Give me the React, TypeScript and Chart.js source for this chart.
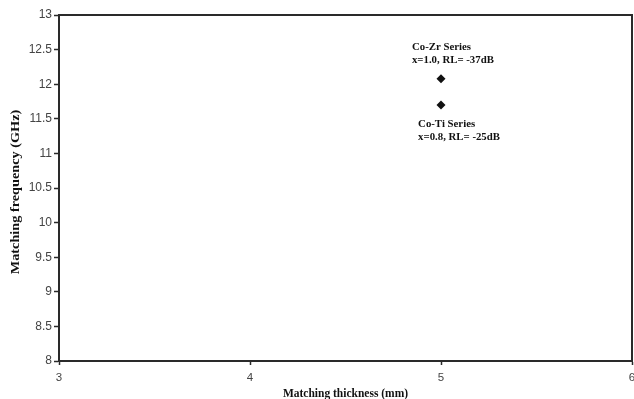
import React, { useEffect, useRef } from "react";
import { Chart, registerables } from "chart.js";

Chart.register(...registerables);

// Data
const thickness = [5, 5]; // mm
const frequency = [12.08, 11.7]; // GHz
const xTicks = [3, 4, 5, 6];
const yTicks = [8, 8.5, 9, 9.5, 10, 10.5, 11, 11.5, 12, 12.5, 13];
const xTitle = "Matching thickness (mm)";
const yTitle = "Matching frequency (GHz)";
const noteCoZr = ["Co-Zr Series", "x=1.0, RL= -37dB"];
const noteCoTi = ["Co-Ti Series", "x=0.8, RL= -25dB"];
const noteCoZrAt = [4.848, 12.54];
const noteCoTiAt = [4.88, 11.42];

const SERIF = "'Liberation Serif', 'Times New Roman', serif";
const SANS = "'Liberation Sans', Arial, sans-serif";

const decorPlugin = {
  id: "decor",
  afterDraw(chart: any) {
    const { ctx, chartArea, scales } = chart;
    const xs = scales.x;
    const ys = scales.y;
    ctx.save();
    // frame top & right
    ctx.strokeStyle = "#2a2a2a";
    ctx.lineWidth = 2;
    ctx.beginPath();
    ctx.moveTo(chartArea.left, chartArea.top);
    ctx.lineTo(chartArea.right, chartArea.top);
    ctx.lineTo(chartArea.right, chartArea.bottom);
    ctx.stroke();

    // annotations
    ctx.fillStyle = "#111";
    ctx.font = "bold 10.8px " + SERIF;
    ctx.textAlign = "left";
    ctx.textBaseline = "middle";
    const drawNote = (lines: string[], at: number[]) => {
      const px = xs.getPixelForValue(at[0]);
      const py = ys.getPixelForValue(at[1]);
      lines.forEach((l, i) => ctx.fillText(l, px, py + i * 13.3));
    };
    drawNote(noteCoZr, noteCoZrAt);
    drawNote(noteCoTi, noteCoTiAt);

    // x title
    ctx.font = "bold 11.5px " + SERIF;
    ctx.textAlign = "center";
    ctx.textBaseline = "middle";
    ctx.fillText(xTitle, (chartArea.left + chartArea.right) / 2, chartArea.bottom + 33);

    // y title (stretched along its length)
    ctx.save();
    ctx.translate(16, (chartArea.top + chartArea.bottom) / 2 + 4);
    ctx.rotate(-Math.PI / 2);
    ctx.scale(1.24, 1);
    ctx.fillText(yTitle, 0, 0);
    ctx.restore();

    ctx.restore();
  },
};

export default function App() {
  const ref = useRef<HTMLCanvasElement | null>(null);
  useEffect(() => {
    if (!ref.current) return;
    const chart = new Chart(ref.current, {
      type: "scatter",
      data: {
        datasets: [
          {
            data: thickness.map((x, i) => ({ x, y: frequency[i] })),
            pointStyle: "rectRot",
            pointRadius: 4.5,
            pointHoverRadius: 4.5,
            backgroundColor: "#111",
            borderColor: "#111",
            borderWidth: 0,
          },
        ],
      },
      options: {
        responsive: false,
        animation: false,
        devicePixelRatio: 1,
        layout: { padding: { top: 15, right: 28, left: 0, bottom: 0 } },
        plugins: {
          legend: { display: false },
          tooltip: { enabled: false },
          title: { display: false },
        },
        scales: {
          x: {
            type: "linear",
            min: 3,
            max: 6,
            afterBuildTicks: (s: any) => {
              s.ticks = xTicks.map((v) => ({ value: v }));
            },
            afterFit: (s: any) => {
              s.height = 38;
            },
            border: { display: true, color: "#2a2a2a", width: 2 },
            grid: {
              drawOnChartArea: false,
              drawTicks: true,
              tickLength: 4,
              tickColor: "#2a2a2a",
              tickWidth: 1.5,
            },
            ticks: {
              color: "#444",
              font: { family: SANS, size: 11.5 },
              padding: 6,
              maxRotation: 0,
              autoSkip: false,
              callback: (v: any) => String(v),
            },
          },
          y: {
            type: "linear",
            min: 8,
            max: 13,
            afterBuildTicks: (s: any) => {
              s.ticks = yTicks.map((v) => ({ value: v }));
            },
            afterFit: (s: any) => {
              s.width = 59;
            },
            border: { display: true, color: "#2a2a2a", width: 2 },
            grid: {
              drawOnChartArea: false,
              drawTicks: true,
              tickLength: 5,
              tickColor: "#2a2a2a",
              tickWidth: 1.5,
            },
            ticks: {
              color: "#444",
              font: { family: SANS, size: 12 },
              padding: 2,
              autoSkip: false,
              callback: (v: any) => String(v),
            },
          },
        },
      },
      plugins: [decorPlugin],
    });
    return () => chart.destroy();
  }, []);

  return (
    <div
      style={{
        position: "fixed",
        left: 0,
        top: 0,
        width: 634,
        height: 399,
        overflow: "hidden",
        background: "#fff",
      }}
    >
      <canvas ref={ref} width={660} height={399} style={{ display: "block" }} />
    </div>
  );
}
